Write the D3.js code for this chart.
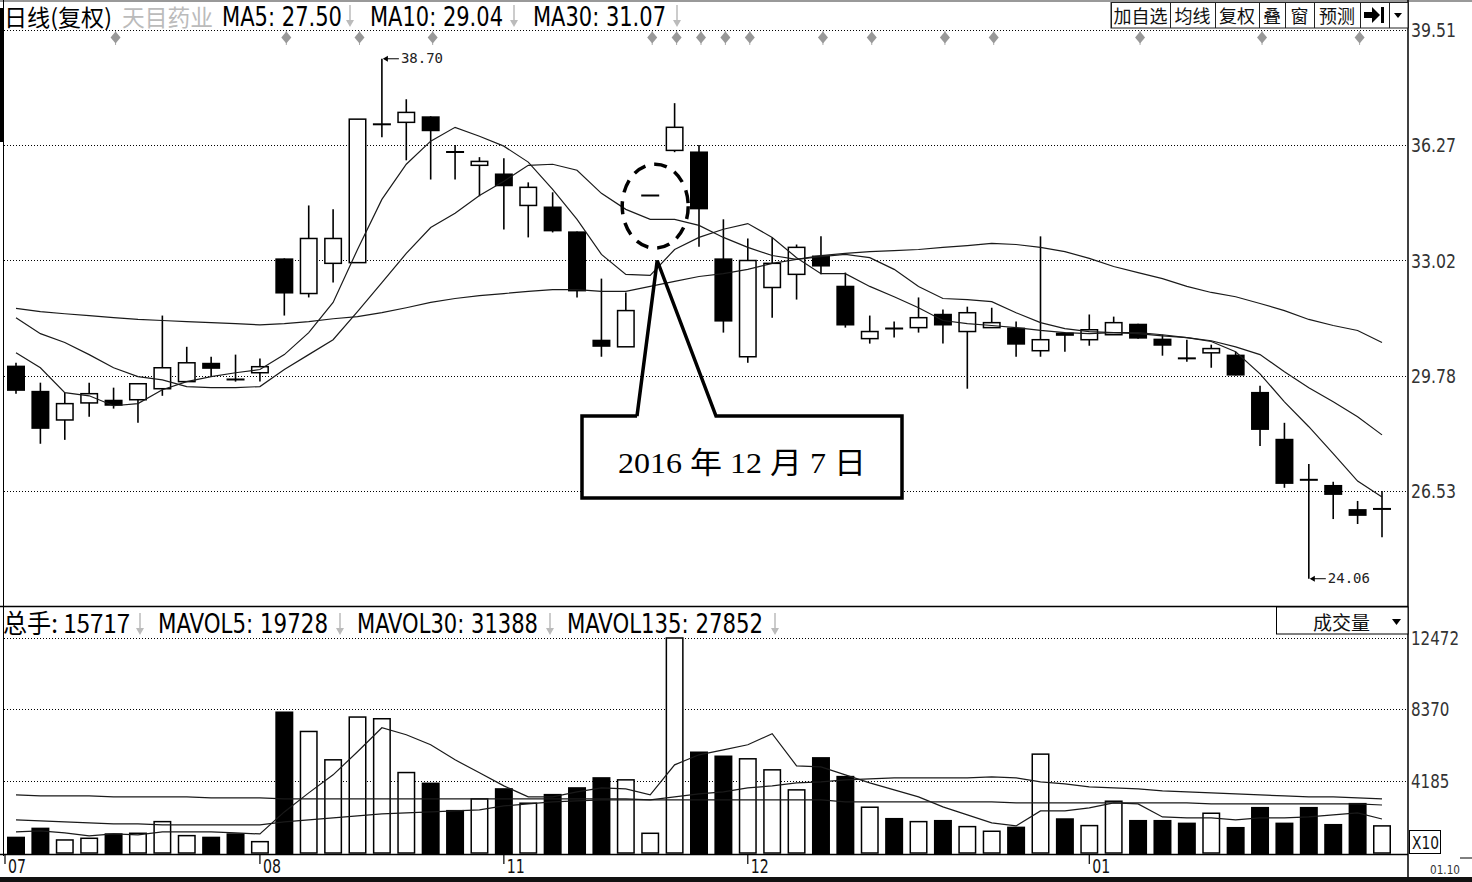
<!DOCTYPE html>
<html><head><meta charset="utf-8">
<script src="https://cdn.jsdelivr.net/npm/d3@7"></script>
<style>
html,body{margin:0;padding:0;background:#fff;}
svg{display:block;}
</style></head><body>
<svg id="c" width="1472" height="882"></svg>
<script>
// ---------------- DATA ----------------
const opens  = [30.06,29.35,28.53,29.01,29.10,29.10,29.41,29.61,30.14,29.68, 29.86,33.08,32.09,32.94,32.96,36.85,36.91,37.08,36.08,35.70, 35.47,34.57,34.54,33.84,30.79,30.59,34.85,36.12,36.09,33.08, 30.31,32.26,32.63,33.16,32.31,30.82,31.11,31.13,31.52,31.02, 31.13,31.13,30.48,30.99,30.79,30.93,31.24,30.82,30.27,30.42, 30.37,29.32,28.00,26.85,26.70,26.02,26.02];
const highs  = [30.14,29.58,29.30,29.58,29.44,29.55,31.47,30.59,30.31,30.37, 30.26,33.08,34.57,34.46,37.00,38.70,37.56,37.08,36.27,35.93, 35.90,35.22,34.94,33.84,32.51,32.12,34.85,37.45,36.27,34.18, 33.64,33.67,33.47,33.70,32.68,31.47,31.30,31.98,31.64,31.72, 31.69,31.30,33.70,30.99,31.50,31.44,31.24,30.93,30.79,30.65, 30.45,29.49,28.45,27.29,26.79,26.25,26.53];
const lows   = [29.27,27.86,27.97,28.62,28.85,28.45,29.21,29.61,29.75,29.61, 29.61,31.47,31.98,32.40,32.96,36.49,35.84,35.30,35.30,34.83, 33.89,33.67,33.81,31.98,30.31,30.59,34.85,36.07,33.41,30.99, 30.14,31.41,31.92,32.63,31.13,30.68,30.85,30.99,30.68,29.41, 31.13,30.31,30.31,30.45,30.62,30.93,30.82,30.34,30.17,30.00, 29.78,27.80,26.62,24.06,25.74,25.60,25.23];
const closes = [29.35,28.28,28.99,29.27,28.93,29.55,30.00,30.14,29.97,29.66, 30.03,32.09,33.64,33.64,37.00,36.86,37.19,36.66,36.07,35.81, 35.11,35.08,33.84,32.15,30.59,31.61,34.85,36.77,34.46,31.30, 33.02,32.94,33.39,32.85,31.19,31.02,31.10,31.41,31.19,31.55, 31.27,30.65,30.79,30.90,31.07,31.27,30.82,30.62,30.26,30.54, 29.78,28.25,26.73,26.84,26.42,25.83,26.03];

const ma5  = [30.42,30.00,29.30,29.21,28.93,28.99,29.38,29.61,29.75,29.86, 29.95,30.37,30.99,31.84,33.33,34.74,35.73,36.38,36.77,36.52, 36.24,35.79,35.02,34.18,33.19,32.63,32.60,33.33,33.67,33.90, 34.06,33.67,33.10,32.65,32.65,32.29,32.00,31.69,31.33,31.24, 31.19,31.13,31.05,30.99,30.96,30.99,30.99,30.93,30.85,30.74, 30.45,29.83,29.04,28.34,27.58,26.81,26.36];
const ma10 = [31.41,30.96,30.71,30.37,30.00,29.75,29.66,29.47,29.44,29.44, 29.47,29.95,30.37,30.79,31.58,32.40,33.22,33.95,34.35,34.85, 35.25,35.70,35.73,35.56,34.91,34.46,34.18,34.18,34.01,33.67, 33.39,33.16,33.05,33.13,33.19,33.10,32.77,32.29,31.95,31.92, 31.86,31.55,31.27,31.10,31.02,30.99,30.96,30.90,30.85,30.76, 30.59,30.37,29.89,29.44,29.04,28.62,28.11];
const ma30 = [31.67,31.58,31.52,31.47,31.41,31.36,31.33,31.30,31.27,31.24, 31.21,31.24,31.30,31.38,31.44,31.55,31.69,31.84,31.95,32.03, 32.09,32.15,32.20,32.20,32.15,32.15,32.29,32.43,32.57,32.65, 32.77,32.94,33.05,33.16,33.22,33.27,33.30,33.33,33.39,33.44, 33.50,33.47,33.39,33.27,33.08,32.85,32.68,32.51,32.29,32.12, 32.00,31.81,31.61,31.36,31.19,31.05,30.71];

const volumes = [947,1471,756,853,1143,1143,1820,1007,947,1143, 658,8210,7050,5405,7886,7788,4667,4086,2499,3139, 3760,2888,3429,3818,4399,4243,1143,12472,5888,5655, 5464,4824,3662,5562,4476,2655,2034,1820,1918,1530, 1261,1530,5735,2015,1589,3003,1918,1918,1763,2306, 1511,2673,1763,2673,1685,2906,1572];
const mavol5   = [1221,1279,1163,988,1104,1046,1221,1221,1221,1163, 1104,2383,3488,4534,5871,7266,6859,6278,5406,4650, 3894,3255,3255,3546,3778,3720,3371,5115,5696,5987, 6278,6917,5057,4999,4534,4069,3662,3255,2674,2209, 1744,1569,2441,2441,2616,2906,2848,2093,2034,2034, 1918,2034,2034,2093,2209,2325,1973];
const mavol30  = [1918,1860,1802,1744,1686,1686,1628,1628,1628,1628, 1628,1802,1918,2034,2151,2267,2325,2383,2441,2499, 2732,2848,2964,3023,3081,3081,3081,3255,3429,3546, 3778,3894,4069,4127,4243,4301,4359,4359,4359,4359, 4418,4359,4127,4011,3836,3778,3720,3604,3546,3488, 3429,3371,3313,3255,3255,3197,3139];
const mavol135 = [3371,3313,3313,3313,3255,3255,3255,3255,3197,3197, 3197,3139,3139,3139,3139,3139,3139,3139,3139,3139, 3139,3139,3139,3139,3139,3139,3081,3081,3081,3081, 3081,3081,3081,3081,2964,2964,2964,2964,2964,2964, 2964,2906,2906,2906,2906,2906,2906,2906,2906,2848, 2848,2848,2848,2848,2848,2848,2785];

const priceTicks = [39.51, 36.27, 33.02, 29.78, 26.53];
const volTicks = [12472, 8370, 4185];
const monthLabels = ["07", "08", "11", "12", "01"];
const monthIndex = [0, 10, 20, 30, 44];
const markerIndex = [4, 11, 14, 17, 26, 27, 28, 29, 30, 33, 35, 38, 40, 46, 51, 55];
const titleName = "日线(复权)";
const stockName = "天目药业";
const maLabels = ["MA5: 27.50", "MA10: 29.04", "MA30: 31.07"];
const volLabels = ["总手: 15717", "MAVOL5: 19728", "MAVOL30: 31388", "MAVOL135: 27852"];
const buttonLabels = ["加自选", "均线", "复权", "叠", "窗", "预测"];
const calloutText = "2016 年 12 月 7 日";
const cornerDate = "01.10";

// ---------------- LAYOUT ----------------
const svg = d3.select('#c');
const N = opens.length;
const AX = 1408;
const x = d3.scalePoint().domain(d3.range(N)).range([16, 1382]);
const y = d3.scaleLinear().domain([26.53, 39.51]).range([491, 30]);
const yv = d3.scaleLinear().domain([0, 12472]).range([853, 638]);
const BW = 18;
const NARROW = "'Liberation Sans Narrow','DejaVu Sans Condensed','Liberation Sans','Noto Sans CJK SC',sans-serif";
const CJK = "'Noto Sans CJK SC','Liberation Sans',sans-serif";

svg.append('rect').attr('width',1472).attr('height',882).attr('fill','#fff');

// gridlines
const grid = svg.append('g').attr('stroke','#000').attr('stroke-width',1).attr('stroke-dasharray','1,2');
priceTicks.forEach(t => grid.append('line').attr('x1',4).attr('x2',AX).attr('y1',Math.round(y(t))+0.5).attr('y2',Math.round(y(t))+0.5));
volTicks.forEach(t => grid.append('line').attr('x1',4).attr('x2',AX).attr('y1',Math.round(yv(t))+0.5).attr('y2',Math.round(yv(t))+0.5));

// frame lines
svg.append('rect').attr('x',0).attr('y',0).attr('width',1472).attr('height',2).attr('fill','#999');
svg.append('line').attr('x1',3.5).attr('x2',3.5).attr('y1',0).attr('y2',856).attr('stroke','#000').attr('stroke-width',1);
svg.append('rect').attr('x',0).attr('y',8).attr('width',4).attr('height',134).attr('fill','#000');
svg.append('line').attr('x1',0).attr('x2',AX).attr('y1',606.5).attr('y2',606.5).attr('stroke','#000').attr('stroke-width',1.5);
svg.append('line').attr('x1',0).attr('x2',AX).attr('y1',854.5).attr('y2',854.5).attr('stroke','#000').attr('stroke-width',1.5);
svg.append('line').attr('x1',AX).attr('x2',AX).attr('y1',0).attr('y2',878).attr('stroke','#000').attr('stroke-width',1.5);

// header row
function txt(g, s, x0, yb, size, w, fill, fam){
  const t = g.append('text').attr('x',x0).attr('y',yb).attr('font-size',size).attr('fill',fill||'#000')
    .attr('font-family',fam||NARROW).text(s);
  if (w) t.attr('textLength',w).attr('lengthAdjust','spacingAndGlyphs');
  return t;
}
function downArrow(xc, y0, y1){
  svg.append('line').attr('x1',xc).attr('x2',xc).attr('y1',y0).attr('y2',y1-3).attr('stroke','#bbb').attr('stroke-width',1.5);
  svg.append('path').attr('d',`M${xc-4},${y1-7}L${xc+4},${y1-7}L${xc},${y1}Z`).attr('fill','#bbb');
}
const hdr = svg.append('g');
txt(hdr, titleName, 4, 26, 23, 108, '#000', CJK);
txt(hdr, stockName, 122, 26, 23, 91, '#bbb', CJK);
const maX = [222, 370, 533], maW = [120, 133, 133], arX = [350, 514, 677];
maLabels.forEach((s,k)=>{ txt(hdr, s, maX[k], 26, 27, maW[k]); downArrow(arX[k], 5, 27); });

const vhX = [3, 158, 357, 567], vhW = [127, 170, 181, 196], vaX = [140, 340, 550, 775];
volLabels.forEach((s,k)=>{ txt(hdr, s, vhX[k], 633, 26, vhW[k], '#000', k===0?"'Noto Sans CJK SC',"+NARROW:NARROW); downArrow(vaX[k], 613, 635); });

// buttons
const btnEdges = [1111, 1170, 1215, 1259, 1285, 1314, 1360, 1389, AX];
const bg = svg.append('g');
bg.append('rect').attr('x',1111).attr('y',2.5).attr('width',AX-1111).attr('height',25.5).attr('fill','#fff').attr('stroke','#222').attr('stroke-width',1);
btnEdges.forEach(e=>bg.append('line').attr('x1',e+0.5).attr('x2',e+0.5).attr('y1',2).attr('y2',28).attr('stroke','#222'));
buttonLabels.forEach((s,k)=>{
  const cx = (btnEdges[k]+btnEdges[k+1])/2;
  bg.append('text').attr('x',cx).attr('y',23).attr('text-anchor','middle').attr('font-size',18)
    .attr('font-family',CJK).attr('fill','#111').text(s);
});
bg.append('path').attr('d','M1364,12h8v-5l8,8l-8,8v-5h-8Z').attr('fill','#000');
bg.append('rect').attr('x',1381).attr('y',7).attr('width',3).attr('height',16).attr('fill','#000');
bg.append('path').attr('d','M1394,13h8l-4,5Z').attr('fill','#000');

// markers
const mk = svg.append('g');
markerIndex.forEach(i=>{
  const cx = x(i) + 2;
  mk.append('line').attr('x1',cx).attr('x2',cx).attr('y1',31).attr('y2',45).attr('stroke','#aaa').attr('stroke-width',1);
  mk.append('path').attr('d',`M${cx},${31.5}L${cx+5},${37.5}L${cx},${43.5}L${cx-5},${37.5}Z`).attr('fill','#999');
});

// price axis labels
priceTicks.forEach(t=>txt(svg, t.toFixed(2), 1411, y(t)+7, 19, 45, '#333'));
volTicks.forEach(t=>txt(svg, String(t), 1411, yv(t)+7, 19, String(t).length*9.6, '#333'));
svg.append('rect').attr('x',1409.5).attr('y',830.5).attr('width',31).attr('height',23).attr('fill','#fff').attr('stroke','#000');
txt(svg, 'X10', 1412, 849, 17, 27, '#111');

// candles
const cg = svg.append('g');
d3.range(N).forEach(i=>{
  const cx = x(i), o=opens[i], c=closes[i], h=highs[i], l=lows[i];
  cg.append('line').attr('x1',cx).attr('x2',cx).attr('y1',y(h)).attr('y2',y(l)).attr('stroke','#000').attr('stroke-width',1.6);
  const top = y(Math.max(o,c)), bot = y(Math.min(o,c));
  if (bot - top < 2.5) {
    cg.append('line').attr('x1',cx-BW/2).attr('x2',cx+BW/2).attr('y1',(top+bot)/2).attr('y2',(top+bot)/2).attr('stroke','#000').attr('stroke-width',2);
  } else if (c >= o) {
    cg.append('rect').attr('x',cx-BW/2+0.75).attr('y',top).attr('width',BW-1.5).attr('height',bot-top).attr('fill','#fff').attr('stroke','#000').attr('stroke-width',1.5);
  } else {
    cg.append('rect').attr('x',cx-BW/2).attr('y',top).attr('width',BW).attr('height',bot-top).attr('fill','#000');
  }
});

// MA lines
const pl = d3.line().x((d,i)=>x(i)).y(d=>y(d));
[ma5, ma10, ma30].forEach(a=>svg.append('path').attr('d',pl(a)).attr('fill','none').attr('stroke','#1a1a1a').attr('stroke-width',1.2));

// high / low annotations
const iMax = d3.maxIndex(highs), iMin = d3.minIndex(lows);
function flag(i, v){
  const cx = x(i), yy = y(v);
  svg.append('line').attr('x1',cx+2).attr('x2',cx+17).attr('y1',yy).attr('y2',yy).attr('stroke','#000').attr('stroke-width',1);
  svg.append('path').attr('d',`M${cx+1},${yy}L${cx+6},${yy-3}L${cx+6},${yy+3}Z`).attr('fill','#000');
  svg.append('text').attr('x',cx+19).attr('y',yy+4).attr('font-size',14).attr('font-family',"'DejaVu Sans Mono',monospace")
    .attr('fill','#222').text(v.toFixed(2));
}
flag(iMax, highs[iMax]);
flag(iMin, lows[iMin]);

// volume bars
const vg = svg.append('g');
d3.range(N).forEach(i=>{
  const cx = x(i), up = closes[i] >= opens[i];
  const top = yv(volumes[i]);
  if (up) vg.append('rect').attr('x',cx-BW/2+0.75).attr('y',top).attr('width',BW-1.5).attr('height',853-top).attr('fill','#fff').attr('stroke','#000').attr('stroke-width',1.5);
  else vg.append('rect').attr('x',cx-BW/2).attr('y',top).attr('width',BW).attr('height',854-top).attr('fill','#000');
});
const vl = d3.line().x((d,i)=>x(i)).y(d=>yv(d));
[mavol5, mavol30, mavol135].forEach(a=>svg.append('path').attr('d',vl(a)).attr('fill','none').attr('stroke','#1a1a1a').attr('stroke-width',1.2));

// 成交量 box
svg.append('rect').attr('x',1276.5).attr('y',607).attr('width',AX-1276.5).attr('height',27).attr('fill','#fff').attr('stroke','#000').attr('stroke-width',1);
svg.append('text').attr('x',1313).attr('y',630).attr('font-size',19).attr('font-family',CJK).attr('fill','#111').text('成交量');
svg.append('path').attr('d','M1392,619h9l-4.5,6Z').attr('fill','#000');

// month ticks
monthLabels.forEach((s,k)=>{
  const i = monthIndex[k];
  const tx = k===0 ? 5 : x(i);
  svg.append('line').attr('x1',tx).attr('x2',tx).attr('y1',855).attr('y2',864).attr('stroke','#000').attr('stroke-width',1.2);
  txt(svg, s, tx+3, 873, 19, 18, '#111');
});
txt(svg, cornerDate, 1430, 874, 13, 30, '#333');
svg.append('line').attr('x1',1460).attr('x2',1472).attr('y1',858).attr('y2',858).attr('stroke','#000');
svg.append('rect').attr('x',0).attr('y',877).attr('width',1472).attr('height',5).attr('fill','#111');

// callout annotation
const i0 = 26;
const tipX = x(i0)+7, tipY = y(33.02);
svg.append('ellipse').attr('cx',x(i0)+5).attr('cy',y(34.55)).attr('rx',33).attr('ry',42)
  .attr('fill','none').attr('stroke','#000').attr('stroke-width',3.5).attr('stroke-dasharray','13,9');
svg.append('path').attr('d',`M637,416L582,416L582,498L902,498L902,416L716,416Z`).attr('fill','#fff').attr('stroke','none');
svg.append('path').attr('d',`M637,416L582,416L582,498L902,498L902,416L716,416L${tipX},${tipY}L637,416`)
  .attr('fill','none').attr('stroke','#000').attr('stroke-width',3.5).attr('stroke-linejoin','miter');
svg.append('text').attr('x',742).attr('y',473).attr('text-anchor','middle').attr('font-size',30)
  .attr('font-family',"'Liberation Serif','Noto Sans CJK SC',serif").attr('fill','#000')
  .attr('textLength',248).attr('lengthAdjust','spacingAndGlyphs').text(calloutText);
</script>
</body></html>
